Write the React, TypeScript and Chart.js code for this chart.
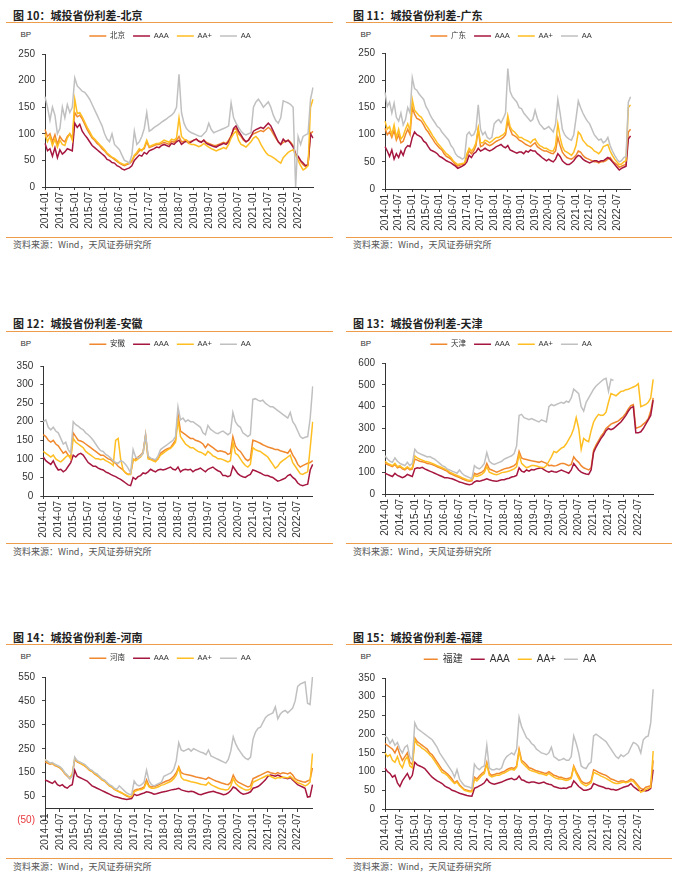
import React, { useEffect, useRef } from 'react';
import { Chart, registerables } from 'chart.js';

Chart.register(...registerables);

// ---------- categories ----------
const MONTHS: string[] = [];
for (let y = 2014; y <= 2023; y++) {
  for (let m = 1; m <= 12; m++) {
    if (y === 2023 && m > 1) break;
    MONTHS.push(`${y}-${m < 10 ? '0' + m : m}`);
  }
}
const X_TICKS = [
  '2014-01', '2014-07', '2015-01', '2015-07', '2016-01', '2016-07', '2017-01', '2017-07', '2018-01',
  '2018-07', '2019-01', '2019-07', '2020-01', '2020-07', '2021-01', '2021-07', '2022-01', '2022-07',
];
const GRADE_NAMES = ['AAA', 'AA+', 'AA'];
const SOURCE_TEXT = '资料来源：Wind，天风证券研究所';

// ---------- 北京 ----------
const BJ_REGION = [
  108, 95, 100, 85, 98, 80, 95, 88, 85, 95, 100, 92,
  140, 132, 135, 128, 118, 108, 100, 92, 88, 82, 78, 72,
  68, 62, 58, 55, 52, 48, 45, 42, 40, 42, 44, 48,
  58, 62, 68, 70, 72, 85, 74, 76, 78, 80, 80, 82,
  84, 82, 80, 86, 84, 88, 95, 85, 86, 88, 85, 86,
  88, 90, 86, 85, 88, 84, 82, 80, 78, 78, 80, 82,
  84, 82, 88, 96, 108, 110, 100, 95, 88, 85, 88, 96,
  100, 102, 104, 106, 104, 108, 112, 108, 100, 92, 85, 80,
  84, 86, 88, 84, 78, 62, 56, 48, 42, 38, 42, 100,
  105,
];
const BJ_AAA = [
  82, 68, 72, 58, 74, 55, 70, 62, 66, 72, 70, 68,
  120, 112, 118, 105, 98, 92, 85, 78, 74, 70, 66, 62,
  58, 52, 50, 46, 45, 40, 38, 34, 32, 34, 36, 40,
  50, 55, 60, 58, 65, 62, 68, 70, 72, 75, 74, 78,
  80, 78, 76, 82, 80, 85, 88, 80, 84, 86, 82, 85,
  88, 90, 86, 84, 88, 82, 80, 78, 76, 75, 78, 80,
  82, 80, 85, 95, 110, 115, 105, 98, 90, 85, 88, 95,
  105, 108, 110, 112, 110, 115, 120, 115, 105, 95, 85, 80,
  90, 85, 88, 82, 75, 62, 58, 50, 45, 40, 42, 100,
  92,
];
const BJ_AAP = [
  100, 85, 95, 78, 90, 75, 88, 80, 78, 92, 100, 88,
  165, 138, 140, 132, 122, 112, 104, 95, 90, 85, 80, 75,
  70, 64, 60, 56, 54, 50, 46, 44, 42, 44, 46, 50,
  60, 65, 72, 68, 75, 88, 76, 78, 80, 82, 82, 85,
  88, 86, 84, 90, 88, 92, 130, 95, 90, 88, 82, 80,
  80, 78, 76, 78, 82, 78, 75, 72, 70, 68, 70, 72,
  74, 72, 80, 92, 100, 105, 88, 80, 78, 75, 80, 85,
  92, 95, 90, 80, 72, 65, 60, 58, 55, 52, 48, 45,
  55, 60, 65, 68, 70, 60, 50, 40, 32, 35, 40, 150,
  165,
];
const BJ_AA = [
  170, 150, 125, 150, 135, 100, 110, 150, 130, 155, 140, 150,
  205, 190, 185, 180, 178, 172, 165, 155, 145, 135, 125, 115,
  100, 90, 85, 100, 80, 75, 70, 60, 50, 48, 45, 60,
  105, 80, 85, 95, 110, 140, 105, 108, 112, 115, 118, 122,
  125, 128, 132, 135, 140, 150, 212, 140, 120, 110, 105, 102,
  100, 98, 96, 95, 100, 105, 120, 108, 102, 104, 106, 108,
  110, 112, 115, 158, 130, 120, 112, 105, 100, 98, 100, 102,
  150, 160, 165, 158, 150, 155, 160, 150, 135, 125, 120, 130,
  162, 160, 158, 155, 150, 0, 95, 80, 95, 98, 100, 165,
  187,
];

// ---------- 广东 ----------
const GD_REGION = [
  112, 100, 105, 95, 108, 90, 100, 85, 88, 100, 110, 100,
  150, 138, 130, 128, 125, 118, 110, 105, 98, 92, 85, 80,
  75, 72, 65, 60, 58, 55, 50, 45, 42, 44, 45, 46,
  60, 70, 65, 70, 80, 110, 78, 80, 85, 82, 80, 82,
  85, 88, 90, 92, 95, 100, 125, 110, 100, 98, 95, 90,
  88, 85, 82, 80, 78, 82, 85, 78, 75, 72, 70, 70,
  68, 66, 65, 70, 95, 80, 68, 62, 58, 56, 55, 58,
  62, 70, 68, 62, 58, 56, 54, 52, 50, 50, 48, 50,
  50, 52, 55, 58, 52, 48, 45, 40, 42, 44, 45, 105,
  110,
];
const GD_AAA = [
  78, 70, 60, 72, 55, 65, 58, 70, 62, 75, 80, 78,
  95, 105, 100, 98, 95, 88, 85, 78, 72, 70, 68, 65,
  60, 58, 55, 52, 50, 48, 45, 42, 38, 40, 42, 45,
  50, 62, 58, 65, 68, 75, 70, 72, 75, 72, 70, 72,
  75, 78, 80, 82, 78, 76, 80, 72, 70, 68, 66, 68,
  68, 65, 70, 68, 72, 70, 70, 65, 62, 58, 55, 52,
  55, 52, 50, 55, 65, 60, 52, 48, 45, 45, 48, 52,
  58, 62, 60, 55, 52, 50, 48, 50, 52, 52, 50, 52,
  52, 55, 58, 55, 50, 45, 40, 35, 38, 40, 42, 92,
  98,
];
const GD_AAP = [
  125, 110, 115, 100, 118, 95, 110, 92, 98, 110, 120, 108,
  165, 145, 140, 135, 132, 125, 118, 112, 105, 98, 92, 85,
  80, 75, 70, 65, 62, 58, 52, 48, 45, 46, 47, 48,
  65, 75, 70, 75, 85, 112, 85, 85, 90, 88, 85, 88,
  92, 95, 95, 98, 100, 105, 135, 115, 108, 105, 100, 95,
  95, 92, 90, 88, 85, 90, 92, 85, 80, 78, 75, 75,
  72, 70, 70, 80, 120, 95, 78, 70, 68, 65, 62, 68,
  80, 105, 100, 90, 85, 80, 78, 75, 70, 68, 65, 70,
  78, 80, 82, 70, 62, 55, 50, 45, 46, 50, 52, 150,
  155,
];
const GD_AA = [
  178, 152, 160, 140, 158, 132, 125, 140, 118, 128, 150, 140,
  205, 185, 182, 175, 170, 165, 152, 145, 135, 128, 122, 115,
  112, 105, 100, 95, 90, 80, 75, 65, 60, 58, 55, 58,
  100, 105, 98, 100, 110, 155, 110, 100, 105, 95, 92, 95,
  120, 125, 128, 122, 130, 140, 222, 180, 170, 165, 160, 150,
  148, 140, 135, 130, 125, 128, 145, 130, 120, 115, 110, 112,
  115, 110, 105, 120, 165, 140, 110, 100, 95, 92, 90, 100,
  130, 162, 150, 140, 132, 125, 120, 110, 100, 95, 90, 92,
  85, 88, 95, 80, 70, 62, 55, 50, 52, 58, 60, 160,
  170,
];

// ---------- 安徽 ----------
const AH_REGION = [
  165, 160, 150, 145, 150, 140, 135, 125, 115, 120, 110, 105,
  170, 160, 150, 148, 145, 140, 135, 130, 125, 120, 115, 110,
  110, 105, 100, 98, 92, 88, 80, 75, 70, 62, 58, 60,
  95, 100, 105, 110, 118, 165, 105, 100, 98, 96, 100, 115,
  120, 125, 128, 130, 140, 150, 220, 175, 170, 165, 160, 155,
  155, 150, 148, 145, 140, 130, 140, 135, 130, 125, 120, 122,
  120, 118, 112, 115, 160, 135, 125, 120, 110, 100, 95, 100,
  150, 148, 145, 142, 138, 135, 132, 130, 128, 125, 125, 122,
  120, 118, 115, 125, 110, 100, 85, 78, 82, 85, 88, 90,
  95,
];
const AH_AAA = [
  105, 95, 90, 85, 95, 80, 70, 72, 65, 70, 80, 90,
  110, 105, 112, 115, 110, 100, 90, 85, 80, 80, 75, 72,
  70, 65, 62, 58, 55, 52, 48, 45, 40, 35, 30, 28,
  50, 45, 52, 55, 62, 60, 65, 72, 68, 65, 70, 72,
  70, 72, 75, 78, 72, 70, 78, 65, 70, 72, 70, 72,
  65, 70, 72, 75, 70, 65, 72, 75, 78, 72, 68, 65,
  55, 55, 52, 55, 80, 70, 60, 55, 52, 50, 55, 58,
  70, 68, 65, 62, 58, 55, 55, 52, 50, 45, 40, 42,
  45, 48, 55, 58, 50, 45, 35, 30, 28, 30, 32, 70,
  85,
];
const AH_AAP = [
  120, 115, 110, 105, 110, 100, 95, 92, 98, 105, 110, 100,
  155, 145, 140, 135, 130, 120, 115, 110, 105, 100, 100, 98,
  100, 95, 92, 88, 82, 150, 155, 100, 70, 62, 58, 58,
  100, 95, 100, 105, 115, 160, 100, 98, 95, 92, 100, 110,
  115, 120, 125, 128, 135, 145, 205, 160, 150, 140, 135, 130,
  130, 125, 120, 118, 115, 110, 120, 115, 108, 105, 100, 100,
  98, 95, 92, 95, 145, 115, 110, 100, 90, 82, 78, 85,
  130, 125, 122, 120, 115, 110, 105, 95, 85, 75, 80, 90,
  95, 100, 105, 110, 90, 80, 70, 60, 58, 62, 65, 130,
  200,
];
const AH_AA = [
  200, 205, 185, 178, 185, 175, 170, 155, 140, 145, 125, 115,
  200, 192, 188, 182, 178, 170, 165, 158, 150, 140, 130, 122,
  120, 112, 108, 102, 95, 90, 88, 95, 92, 85, 75, 62,
  125, 105, 102, 108, 115, 165, 108, 102, 100, 98, 108, 125,
  130, 135, 140, 145, 150, 160, 240, 205, 210, 200, 205, 200,
  200, 195, 190, 185, 170, 165, 190, 180, 175, 170, 168, 172,
  175, 170, 165, 170, 225, 200, 190, 185, 170, 165, 160, 165,
  260, 262, 258, 255, 258, 250, 245, 240, 240, 235, 230, 225,
  220, 215, 210, 225, 200, 190, 175, 160, 155, 158, 160, 210,
  295,
];

// ---------- 天津 ----------
const TJ_REGION = [
  140, 135, 130, 125, 135, 120, 125, 115, 110, 120, 110, 115,
  160, 155, 150, 148, 145, 140, 138, 135, 130, 125, 120, 115,
  110, 105, 95, 90, 85, 80, 75, 70, 65, 60, 58, 60,
  95, 90, 95, 100, 110, 140, 115, 110, 105, 100, 105, 110,
  115, 118, 120, 125, 130, 140, 195, 165, 160, 158, 155, 152,
  150, 148, 145, 150, 145, 140, 130, 132, 128, 130, 135, 140,
  140, 135, 130, 135, 170, 155, 145, 130, 120, 115, 110, 120,
  200, 225, 245, 265, 280, 300, 310, 320, 325, 330, 335, 345,
  355, 370, 390, 405, 410, 300, 305, 310, 320, 330, 345, 380,
  440,
];
const TJ_AAA = [
  95, 90, 85, 80, 95, 85, 80, 75, 80, 90, 85, 80,
  115, 120, 118, 122, 115, 110, 105, 100, 95, 90, 85, 80,
  75, 75, 72, 70, 65, 60, 55, 52, 48, 45, 42, 45,
  55, 60, 58, 62, 65, 70, 65, 62, 60, 58, 62, 65,
  65, 70, 72, 78, 80, 85, 120, 105, 100, 110, 105, 112,
  110, 115, 118, 120, 112, 105, 100, 105, 102, 100, 105, 110,
  105, 100, 95, 110, 140, 125, 110, 100, 95, 92, 90, 110,
  190, 215, 235, 255, 270, 290, 300, 295, 300, 310, 320, 330,
  345, 360, 380, 395, 400, 280, 280, 285, 300, 320, 340, 360,
  430,
];
const TJ_AAP = [
  150, 140, 135, 130, 140, 125, 130, 120, 115, 125, 115, 120,
  175, 165, 160, 155, 150, 148, 145, 140, 135, 130, 125, 120,
  115, 110, 100, 95, 90, 85, 80, 75, 70, 65, 62, 65,
  85, 80, 85, 90, 100, 125, 100, 95, 90, 88, 92, 98,
  100, 102, 105, 110, 115, 125, 180, 140, 130, 120, 125, 130,
  130, 128, 125, 122, 120, 130, 150, 170, 195, 190, 200, 210,
  215, 230, 250, 270, 300, 350, 300, 205, 255, 245, 240, 290,
  330, 350, 365, 360, 362, 375, 420, 460, 455, 450, 460, 470,
  472, 478, 480, 485, 490, 495, 505, 400, 405, 410, 420, 440,
  525,
];
const TJ_AA = [
  175, 160, 150, 145, 165, 150, 140, 135, 130, 145, 130, 140,
  205, 190, 185, 180, 175, 170, 172, 165, 160, 150, 140, 130,
  125, 115, 110, 105, 100, 95, 110, 95, 85, 80, 75, 70,
  130, 120, 115, 125, 140, 190, 150, 140, 135, 140, 145, 150,
  160, 165, 170, 175, 185, 220, 360, 365, 350, 345, 340, 345,
  340, 335, 330, 340, 335, 330, 400, 410, 405, 410, 415, 420,
  415, 425, 420, 440, 480, 470, 460, 400, 380, 420, 440, 460,
  480, 495, 505, 515, 525, 530, 470, 525, 520, null, null, null,
  null, null, null, null, null, null, null, null, null, null, null, null,
  null,
];

// ---------- 河南 ----------
const HN_REGION = [
  195, 190, 185, 188, 180, 175, 170, 160, 145, 135, 125, 140,
  205, 195, 190, 185, 178, 170, 160, 155, 145, 138, 130, 120,
  115, 105, 95, 90, 80, 75, 70, 65, 58, 52, 48, 50,
  75, 80, 82, 85, 90, 120, 95, 90, 92, 95, 100, 105,
  110, 115, 118, 125, 135, 150, 175, 150, 145, 142, 140, 138,
  135, 132, 130, 128, 125, 122, 130, 125, 120, 115, 112, 108,
  105, 102, 100, 110, 140, 120, 110, 105, 100, 95, 90, 95,
  125, 130, 135, 140, 145, 150, 155, 150, 148, 145, 150, 145,
  150, 148, 145, 150, 140, 125, 118, 115, 112, 110, 115, 120,
  170,
];
const HN_AAA = [
  120, 115, 110, 105, 115, 100, 95, 100, 90, 85, 95, 100,
  160, 135, 130, 125, 120, 115, 105, 95, 90, 85, 80, 75,
  70, 65, 60, 55, 50, 48, 45, 42, 40, 38, 40, 42,
  60, 55, 58, 62, 65, 70, 68, 65, 60, 62, 65, 68,
  70, 72, 75, 78, 80, 82, 85, 78, 75, 72, 70, 72,
  70, 65, 60, 58, 62, 65, 68, 70, 72, 68, 65, 62,
  58, 60, 65, 75, 90, 85, 75, 65, 60, 62, 65, 70,
  85, 88, 92, 100, 110, 120, 135, 140, 138, 135, 140, 135,
  130, 128, 125, 130, 120, 110, 100, 95, 90, 85, 48, 50,
  100,
];
const HN_AAP = [
  205, 195, 188, 190, 182, 178, 172, 162, 148, 138, 130, 145,
  210, 198, 192, 186, 180, 172, 162, 156, 148, 140, 132, 122,
  116, 106, 96, 90, 82, 75, 70, 65, 60, 55, 50, 50,
  70, 75, 78, 80, 85, 110, 90, 85, 85, 88, 92, 98,
  100, 105, 110, 115, 125, 140, 170, 130, 120, 118, 115, 112,
  110, 108, 105, 102, 100, 98, 110, 100, 95, 90, 85, 82,
  80, 78, 80, 95, 125, 105, 95, 88, 82, 78, 78, 82,
  110, 115, 120, 125, 130, 135, 140, 135, 130, 125, 130, 128,
  132, 130, 128, 135, 125, 115, 108, 105, 100, 95, 100, 110,
  230,
];
const HN_AA = [
  205, 198, 190, 192, 185, 180, 175, 165, 150, 140, 125, 135,
  215, 200, 195, 190, 185, 175, 165, 160, 150, 145, 135, 125,
  120, 110, 100, 95, 85, 80, 95, 85, 75, 65, 60, 58,
  115, 100, 95, 100, 110, 160, 115, 100, 95, 100, 105, 110,
  135, 140, 145, 150, 165, 200, 275, 245, 240, 245, 250, 240,
  250, 245, 240, 235, 232, 225, 245, 220, 215, 210, 205, 200,
  195, 190, 205, 240, 300, 270, 250, 235, 220, 210, 205, 215,
  290, 320, 335, 340, 360, 380, 390, 395, 400, 425, 375, 395,
  405, 410, 400, 410, 420, 450, 510, 520, 525, 530, 440, 435,
  550,
];

// ---------- 福建 ----------
const FJ_REGION = [
  175, 170, 165, 160, 150, 165, 145, 130, 140, 150, 125, 118,
  190, 180, 175, 170, 165, 160, 150, 145, 135, 125, 115, 105,
  100, 95, 88, 80, 70, 75, 65, 58, 52, 50, 48, 48,
  85, 80, 88, 95, 100, 125, 95, 90, 92, 95, 95, 98,
  100, 105, 108, 110, 108, 115, 160, 130, 125, 118, 110, 108,
  105, 102, 100, 98, 96, 95, 100, 95, 90, 88, 85, 85,
  82, 80, 82, 85, 115, 100, 88, 75, 70, 68, 70, 75,
  105, 102, 98, 95, 92, 90, 85, 80, 78, 75, 72, 75,
  75, 72, 75, 80, 78, 70, 62, 55, 52, 58, 60, 62,
  130,
];
const FJ_AAA = [
  110, 100, 95, 85, 90, 70, 60, 75, 85, 95, 80, 90,
  125, 118, 115, 112, 108, 100, 92, 85, 80, 75, 72, 68,
  62, 58, 55, 50, 48, 45, 42, 40, 38, 36, 35, 34,
  55, 58, 62, 65, 70, 80, 72, 68, 66, 68, 70, 72,
  75, 78, 80, 82, 78, 80, 88, 78, 76, 72, 70, 72,
  72, 70, 68, 70, 72, 68, 66, 65, 60, 58, 56, 55,
  56, 55, 58, 60, 75, 68, 60, 55, 50, 50, 52, 55,
  68, 65, 62, 60, 58, 55, 55, 52, 52, 50, 52, 55,
  58, 60, 62, 68, 60, 55, 50, 48, 50, 48, 50, 55,
  105,
];
const FJ_AAP = [
  150, 140, 145, 130, 125, 140, 120, 110, 130, 140, 115, 110,
  185, 172, 168, 162, 158, 152, 145, 138, 128, 118, 108, 98,
  95, 90, 82, 75, 68, 72, 62, 56, 50, 48, 46, 46,
  80, 75, 82, 90, 95, 120, 90, 86, 88, 90, 90, 94,
  96, 100, 104, 106, 104, 112, 155, 125, 118, 112, 105, 102,
  100, 98, 95, 94, 92, 90, 95, 90, 85, 82, 80, 80,
  78, 76, 78, 82, 112, 95, 82, 70, 65, 62, 66, 70,
  98, 95, 92, 88, 85, 82, 78, 74, 70, 68, 68, 70,
  72, 70, 72, 76, 74, 66, 58, 45, 48, 52, 55, 58,
  155,
];
const FJ_AA = [
  195, 190, 175, 185, 170, 178, 160, 150, 165, 170, 140, 130,
  230, 215, 210, 205, 200, 195, 190, 185, 175, 165, 150, 140,
  130, 120, 110, 100, 85, 105, 80, 70, 62, 60, 58, 55,
  120, 110, 105, 112, 115, 170, 110, 105, 105, 108, 105, 110,
  130, 140, 145, 150, 145, 160, 245, 220, 205, 190, 185, 175,
  170, 160, 155, 150, 148, 145, 150, 165, 140, 135, 130, 132,
  135, 130, 130, 140, 195, 175, 150, 115, 110, 108, 120, 125,
  195, 200, 195, 190, 185, 180, 170, 160, 150, 140, 135, 145,
  140, 145, 150, 165, 178, 175, 168, 150, 185, 192, 195, 230,
  320,
];

// ---------- styling ----------
const COLORS = ['#F0882E', '#A6173F', '#FFBE22', '#C0C0C0'];
const RULE_COLOR = '#EE9B4A';
const TEXT_COLOR = '#333333';
const NEG_COLOR = '#E8383D';
const LATIN = "'Liberation Sans', Arial, 'Noto Sans CJK SC', sans-serif";
const CJK = "'Noto Sans CJK SC', 'Liberation Sans', sans-serif";

Chart.defaults.font.family = LATIN;

// geometry: canvas box (cl, ct, cw, ch), layout paddings, fixed axis sizes, dummy right box width (wR)
const PANELS = [
  {
    title: '图 10：城投省份利差-北京', region: '北京', series: [BJ_REGION, BJ_AAA, BJ_AAP, BJ_AA],
    yMin: 0, yMax: 250, yStep: 50, zeroAxis: false, col: 0, row: 0,
    cl: 0, ct: 24, cw: 335, ch: 209, pl: 11, pr: 6, wR: 16, pt: 0.25, pb: 0, yW: 34, xH: 46, spacer: 4.25, lf: 7.5, lb: 17,
  },
  {
    title: '图 11：城投省份利差-广东', region: '广东', series: [GD_REGION, GD_AAA, GD_AAP, GD_AA],
    yMin: 0, yMax: 250, yStep: 50, zeroAxis: false, col: 1, row: 0,
    cl: 340, ct: 24, cw: 338, ch: 211, pl: 11, pr: 7, wR: 40.4, pt: 0.25, pb: 0, yW: 34, xH: 46, spacer: 3.55, lf: 7.5, lb: 17,
  },
  {
    title: '图 12：城投省份利差-安徽', region: '安徽', series: [AH_REGION, AH_AAA, AH_AAP, AH_AA],
    yMin: 0, yMax: 350, yStep: 50, zeroAxis: false, col: 0, row: 1,
    cl: 0, ct: 332, cw: 335, ch: 210, pl: 9.3, pr: 4.3, wR: 18, pt: 0.55, pb: 0, yW: 34, xH: 46, spacer: 7.95, lf: 7.5, lb: 17,
  },
  {
    title: '图 13：城投省份利差-天津', region: '天津', series: [TJ_REGION, TJ_AAA, TJ_AAP, TJ_AA],
    yMin: 0, yMax: 600, yStep: 100, zeroAxis: false, col: 1, row: 1,
    cl: 340, ct: 332, cw: 338, ch: 208, pl: 11, pr: 7, wR: 17.8, pt: 0.55, pb: 0, yW: 34, xH: 46, spacer: 4.95, lf: 7.5, lb: 17,
  },
  {
    title: '图 14：城投省份利差-河南', region: '河南', series: [HN_REGION, HN_AAA, HN_AAP, HN_AA],
    yMin: -50, yMax: 550, yStep: 100, zeroAxis: true, col: 0, row: 2,
    cl: 0, ct: 646, cw: 335, ch: 210, pl: 11, pr: 6, wR: 16.5, pt: 0.55, pb: 35.5, yW: 34, xH: 35.5, spacer: 4.95, lf: 7.5, lb: 17,
  },
  {
    title: '图 15：城投省份利差-福建', region: '福建', series: [FJ_REGION, FJ_AAA, FJ_AAP, FJ_AA],
    yMin: 0, yMax: 350, yStep: 50, zeroAxis: false, col: 1, row: 2,
    cl: 340, ct: 646, cw: 338, ch: 209, pl: 11, pr: 9, wR: 15.8, pt: 0.3, pb: 0, yW: 34, xH: 46, spacer: 3.7, lf: 10, lb: 14,
  },
];

// row-level text positions (page coordinates)
const ROWS = [
  { titleTop: 8, ruleTop: 22, bpTop: 30, ruleBottom: 237, sourceTop: 239 },
  { titleTop: 316, ruleTop: 330.5, bpTop: 339.3, ruleBottom: 543, sourceTop: 546.2 },
  { titleTop: 629.7, ruleTop: 644, bpTop: 651.7, ruleBottom: 857.5, sourceTop: 860.5 },
];
const COLS = [
  { textLeft: 13, ruleLeft: 6, ruleWidth: 327, bpLeft: 20.5 },
  { textLeft: 353, ruleLeft: 346, ruleWidth: 326, bpLeft: 360.5 },
];

function PanelChart({ cfg }: { cfg: any }) {
  const ref = useRef<HTMLCanvasElement | null>(null);
  useEffect(() => {
    if (!ref.current) return;
    const names = [cfg.region, ...GRADE_NAMES];
    const datasets = cfg.series.map((d: (number | null)[], i: number) => ({
      label: names[i],
      data: d,
      yAxisID: 'y',
      borderColor: COLORS[i],
      backgroundColor: COLORS[i],
      borderWidth: 1.5,
      pointRadius: 0,
      pointHoverRadius: 0,
      tension: 0,
      fill: false,
      spanGaps: false,
      order: 3 - i,
    }));
    const chart = new Chart(ref.current, {
      type: 'line',
      data: { labels: MONTHS, datasets },
      options: {
        animation: false,
        responsive: true,
        maintainAspectRatio: false,
        events: [],
        layout: { padding: { left: cfg.pl, right: cfg.pr, top: cfg.pt, bottom: cfg.pb } },
        plugins: {
          legend: {
            display: true,
            position: 'top',
            align: 'center',
            labels: {
              boxWidth: cfg.lb,
              boxHeight: 0,
              padding: 8,
              color: TEXT_COLOR,
              font: { size: cfg.lf, family: LATIN },
              sort: (a: any, b: any) => a.datasetIndex - b.datasetIndex,
            },
          },
          title: {
            display: true,
            text: ' ',
            weight: 0,
            font: { size: 1, lineHeight: 1 },
            padding: { top: 0, bottom: Math.max(0, cfg.spacer - 1) },
          },
          tooltip: { enabled: false },
        },
        scales: {
          x: {
            type: 'category',
            position: cfg.zeroAxis ? { y: 0 } : 'bottom',
            offset: false,
            grid: {
              display: true,
              drawOnChartArea: false,
              drawTicks: true,
              tickLength: 3,
              lineWidth: 1,
              color: (ctx: any) => (X_TICKS.includes(MONTHS[ctx.index]) ? '#444' : 'rgba(0,0,0,0)'),
            },
            border: { display: true, color: '#333', width: 1 },
            ticks: {
              autoSkip: false,
              minRotation: 90,
              maxRotation: 90,
              padding: 2,
              color: TEXT_COLOR,
              font: { size: 10, family: LATIN },
              callback: (_v: any, i: number) => (X_TICKS.includes(MONTHS[i]) ? MONTHS[i] : ''),
            },
            afterFit: (s: any) => { s.height = cfg.xH; },
          },
          y: {
            type: 'linear',
            position: 'left',
            min: cfg.yMin,
            max: cfg.yMax,
            grid: { display: true, drawOnChartArea: false, drawTicks: true, tickLength: 3, color: '#444' },
            border: { display: true, color: '#333', width: 1 },
            ticks: {
              stepSize: cfg.yStep,
              padding: 7,
              font: { size: 10, family: LATIN },
              color: (ctx: any) => (ctx.tick && ctx.tick.value < 0 ? NEG_COLOR : TEXT_COLOR),
              callback: (v: any) => (Number(v) < 0 ? `(${Math.abs(Number(v))})` : String(v)),
            },
            afterFit: (s: any) => { s.width = cfg.yW; },
          },
          // empty spacer box on the right so the legend centres like the original
          yR: {
            type: 'linear',
            position: 'right',
            display: true,
            grid: { display: false, drawTicks: false },
            border: { display: false },
            ticks: { display: false },
            afterFit: (s: any) => { s.width = cfg.wR; },
          },
        },
      },
    } as any);
    return () => chart.destroy();
  }, [cfg]);
  return (
    <div style={{ position: 'absolute', left: cfg.cl, top: cfg.ct, width: cfg.cw, height: cfg.ch }}>
      <canvas ref={ref} />
    </div>
  );
}

export default function App() {
  return (
    <div style={{ position: 'absolute', left: 0, top: 0, width: 678, height: 877, background: '#ffffff', overflow: 'hidden' }}>
      {PANELS.map((p, k) => {
        const r = ROWS[p.row];
        const c = COLS[p.col];
        return (
          <React.Fragment key={k}>
            <div style={{ position: 'absolute', left: c.textLeft, top: r.titleTop, fontFamily: CJK, fontWeight: 700, fontSize: 11, lineHeight: '14px', color: '#222', whiteSpace: 'nowrap' }}>
              {p.title}
            </div>
            <div style={{ position: 'absolute', left: c.ruleLeft, top: r.ruleTop, width: c.ruleWidth, height: 1, background: RULE_COLOR }} />
            <div style={{ position: 'absolute', left: c.bpLeft, top: r.bpTop, fontFamily: LATIN, fontSize: 8, lineHeight: '10px', color: TEXT_COLOR }}>BP</div>
            <PanelChart cfg={p} />
            <div style={{ position: 'absolute', left: c.ruleLeft, top: r.ruleBottom, width: c.ruleWidth, height: 1, background: RULE_COLOR }} />
            <div style={{ position: 'absolute', left: c.textLeft, top: r.sourceTop, fontFamily: CJK, fontSize: 9, lineHeight: '11px', color: '#555', whiteSpace: 'nowrap' }}>
              {SOURCE_TEXT}
            </div>
          </React.Fragment>
        );
      })}
    </div>
  );
}
